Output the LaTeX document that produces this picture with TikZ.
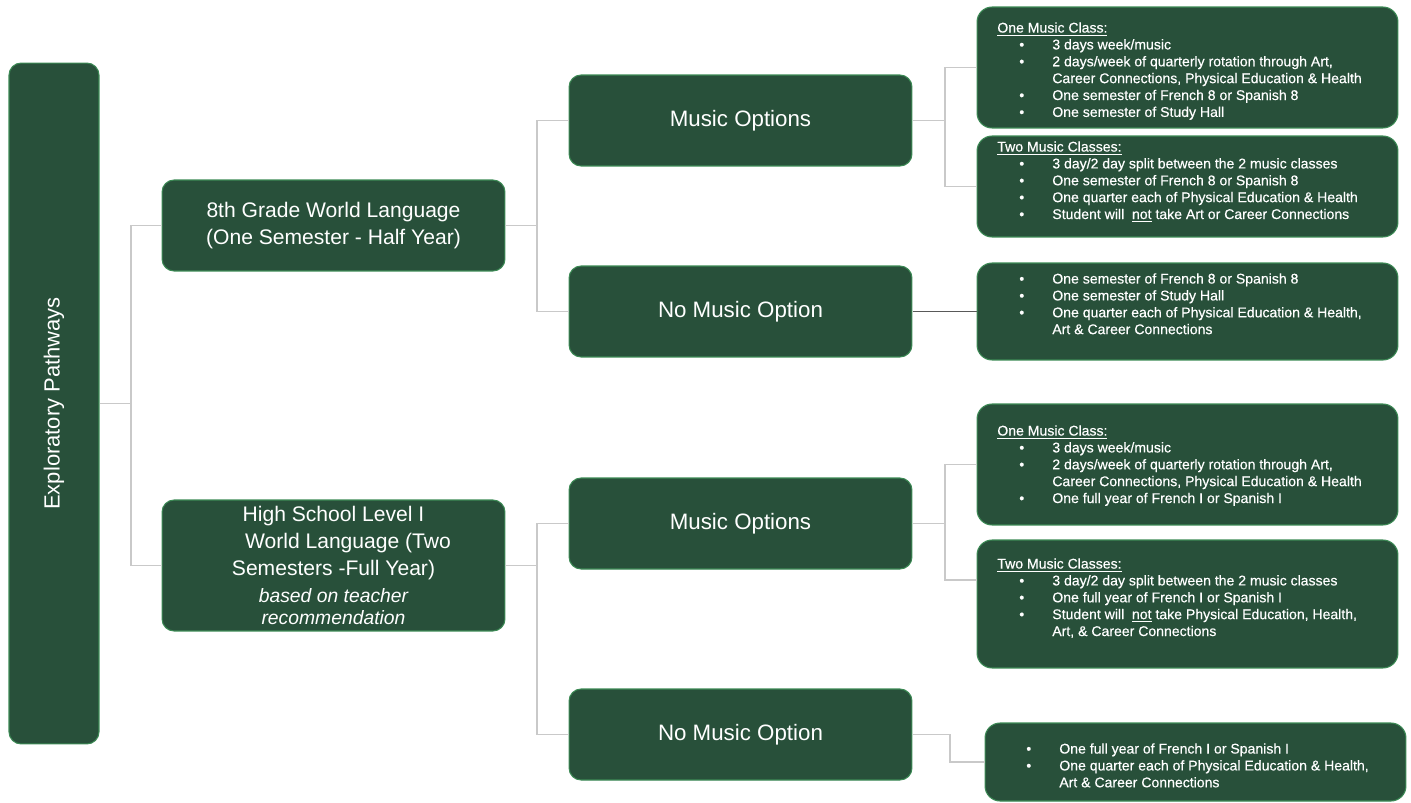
\documentclass[tikz,border=0pt]{standalone}
\usepackage{fontspec}
\setmainfont{Liberation Sans}
\newfontfamily\infofont[FakeBold=0.4]{Liberation Sans}
\usepackage{tikz}
\definecolor{pathgreen}{HTML}{28503A}
\definecolor{pathedge}{HTML}{3C8A55}
\definecolor{linkgray}{HTML}{C9C9C9}
\newcommand{\bul}{\hspace*{0.44cm}\makebox[0.66cm][l]{\textbullet}}
\newcommand{\cont}{\hspace*{1.1cm}}

\begin{document}
\begin{tikzpicture}[x=0.02cm, y=-0.02cm,
	box/.style={draw=pathedge, line width=0.6pt, fill=pathgreen, rounded corners=0.24cm, text=white, align=center, inner sep=0pt},
	midbox/.style={box, minimum width=6.86cm, minimum height=1.82cm, font=\fontsize{12}{15.5}\selectfont},
	optbox/.style={midbox, font=\fontsize{12.7}{15.5}\selectfont},
	infobox/.style={box, rounded corners=0.3cm, minimum width=8.42cm},
	infotext/.style={anchor=north west, align=left, text=white, inner sep=0pt, font=\infofont\fontsize{8}{9.6}\selectfont},
	link/.style={draw=linkgray, line width=0.85pt}]
	\useasboundingbox (0,0) rectangle (1411,802);

	\node[box, minimum width=1.8cm, minimum height=13.62cm, font=\fontsize{12.5}{15}\selectfont] (root) at (54,403.5) {\rotatebox{90}{Exploratory Pathways}};

	\node[midbox] (grade8) at (333.5,225.5) {8th Grade World Language\\(One Semester - Half Year)};
	\node[midbox, minimum height=2.62cm] (highsch) at (333.5,565.5) {High School Level I\\\hspace*{0.58cm}World Language (Two\\Semesters -Full Year)\\[-0.5pt]{\fontsize{11}{13}\selectfont\itshape based on teacher}\\[-2.5pt]{\fontsize{11}{13}\selectfont\itshape recommendation}};

	\node[optbox] (music1) at (740.5,120.5) {Music Options};
	\node[optbox] (nomusic1) at (740.5,311.5) {No Music Option};
	\node[optbox] (music2) at (740.5,523.5) {Music Options};
	\node[optbox] (nomusic2) at (740.5,734.5) {No Music Option};

	\node[infobox, minimum height=2.42cm] (oneclass1) at (1187.5,67.5) {};
	\node[infotext] (oneclass1t) at (997,22) {\underline{One Music Class:}\\
		\bul 3 days week/music\\
		\bul 2 days/week of quarterly rotation through Art,\\
		\cont Career Connections, Physical Education \& Health\\
		\bul One semester of French 8 or Spanish 8\\
		\bul One semester of Study Hall};
	\node[infobox, minimum height=2.02cm] (twoclass1) at (1187.5,186.5) {};
	\node[infotext] (twoclass1t) at (997,141) {\underline{Two Music Classes:}\\
		\bul 3 day/2 day split between the 2 music classes\\
		\bul One semester of French 8 or Spanish 8\\
		\bul One quarter each of Physical Education \& Health\\
		\bul Student will~ \underline{not} take Art or Career Connections};
	\node[infobox, minimum height=1.94cm] (nomusicinfo1) at (1187.5,311.5) {};
	\node[infotext] (nomusicinfo1t) at (997,273) {\bul One semester of French 8 or Spanish 8\\
		\bul One semester of Study Hall\\
		\bul One quarter each of Physical Education \& Health,\\
		\cont Art \& Career Connections};

	\node[infobox, minimum height=2.42cm] (oneclass2) at (1187.5,464.5) {};
	\node[infotext] (oneclass2t) at (997,425) {\underline{One Music Class:}\\
		\bul 3 days week/music\\
		\bul 2 days/week of quarterly rotation through Art,\\
		\cont Career Connections, Physical Education \& Health\\
		\bul One full year of French I or Spanish I};
	\node[infobox, minimum height=2.56cm] (twoclass2) at (1187.5,604) {};
	\node[infotext] (twoclass2t) at (997,558) {\underline{Two Music Classes:}\\
		\bul 3 day/2 day split between the 2 music classes\\
		\bul One full year of French I or Spanish I\\
		\bul Student will~ \underline{not} take Physical Education, Health,\\
		\cont Art, \& Career Connections};
	\node[infobox, minimum height=1.56cm] (nomusicinfo2) at (1195.5,762) {};
	\node[infotext] (nomusicinfo2t) at (1004,743) {\bul One full year of French I or Spanish I\\
		\bul One quarter each of Physical Education \& Health,\\
		\cont Art \& Career Connections};

	\coordinate (fork0) at (131,403.5);
	\coordinate (fork1) at (537,225.5);
	\coordinate (fork2) at (945,120.5);
	\coordinate (fork3) at (537,565.5);
	\coordinate (fork4) at (945,523.5);
	\coordinate (fork5) at (950,734.5);

	\draw[link] (root.east) -- (fork0);
	\draw[link] (fork0) |- (grade8.west);
	\draw[link] (fork0) |- (highsch.west);
	\draw[link] (grade8.east) -- (fork1);
	\draw[link] (fork1) |- (music1.west);
	\draw[link] (fork1) |- (nomusic1.west);
	\draw[link] (music1.east) -- (fork2);
	\draw[link] (fork2) |- (oneclass1.west);
	\draw[link] (fork2) |- (twoclass1.west);
	\draw[link, draw=black!65] (nomusic1.east) -- (nomusicinfo1.west);
	\draw[link] (highsch.east) -- (fork3);
	\draw[link] (fork3) |- (music2.west);
	\draw[link] (fork3) |- (nomusic2.west);
	\draw[link] (music2.east) -- (fork4);
	\draw[link] (fork4) |- (oneclass2.west);
	\draw[link] (fork4) |- ([yshift=0.48cm]twoclass2.west);
	\draw[link] (nomusic2.east) -- (fork5) |- (nomusicinfo2.west);
\end{tikzpicture}
\end{document}
